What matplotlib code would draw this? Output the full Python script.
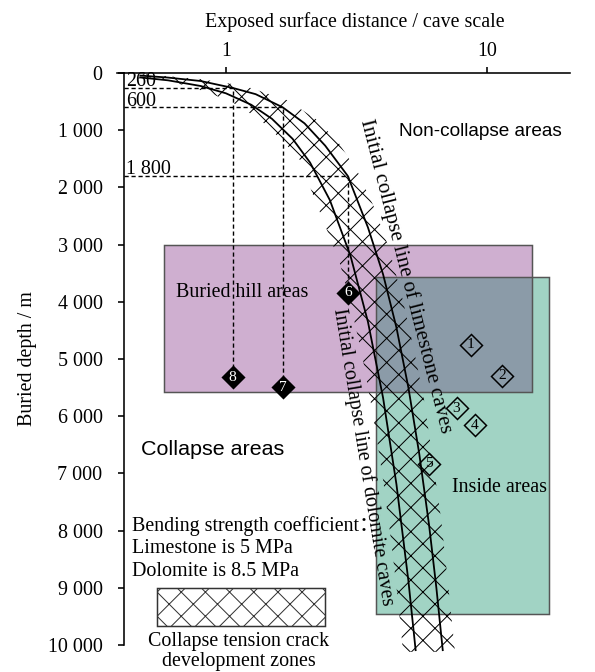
import matplotlib.pyplot as plt
from matplotlib.patches import Polygon, Rectangle
from matplotlib.ticker import NullLocator

W, H, DPI = 595, 672, 145
P = 72 / DPI  # pixels -> points

plt.rcParams['font.family'] = 'Liberation Serif'
plt.rcParams['hatch.linewidth'] = 1.0 * P
plt.rcParams['hatch.color'] = 'black'

# initial collapse lines: cave scale (exposed surface distance) vs buried depth, m
limestone_x = [0.47, 0.6, 0.8, 1.06, 1.3, 1.65, 2.0, 2.4, 2.93, 3.5, 4.0, 4.5, 5.0, 5.5, 6.0, 6.4, 6.77]
limestone_depth = [45, 80, 140, 260, 370, 600, 880, 1270, 1800, 2700, 3520, 4450, 5500, 6650, 7900, 9000, 10090]
dolomite_x = [0.47, 0.6, 0.8, 1.0, 1.25, 1.5, 1.8, 2.1, 2.5, 3.0, 3.5, 4.0, 4.5, 5.0, 5.33]
dolomite_depth = [78, 128, 227, 355, 555, 800, 1150, 1565, 2220, 3195, 4350, 5680, 7190, 8875, 10090]

# collapse tension crack development zone (outline)
zone_lower_x = [0.48, 0.666, 0.868, 1.131, 1.411, 1.683, 1.921, 2.12, 2.394, 2.71, 2.98, 3.35, 3.69, 4.0, 4.29, 4.56, 4.77]
zone_lower_depth = [52, 192, 350, 577, 891, 1224, 1521, 2045, 2657, 3269, 3968, 5017, 6066, 7114, 8163, 9211, 10120]
zone_upper_x = [0.48, 0.795, 1.18, 1.71, 2.21, 2.69, 3.2, 3.69, 4.21, 4.76, 5.25, 5.74, 6.2, 6.68, 7.07, 7.54]
zone_upper_depth = [17, 105, 227, 472, 804, 1206, 1731, 2342, 3059, 3968, 4842, 5716, 6765, 7815, 8862, 10120]

# areas
hill_x = [0.58, 14.9]
hill_depth = [3000, 5580]
inside_x = [3.76, 17.3]
inside_depth = [3570, 9460]

# critical depths on the limestone line
crit_x = [1.06, 1.65, 2.93]
crit_depth = [260, 600, 1800]
crit_labels = ['260', '600', '1 800']

# caves / wells
well_ids = ['1', '2', '3', '4', '5', '6', '7', '8']
well_x = [8.66, 11.44, 7.65, 9.0, 6.0, 2.93, 1.65, 1.06]
well_depth = [4755, 5297, 5862, 6159, 6835, 3846, 5490, 5315]
well_filled = [False, False, False, False, False, True, True, True]

# drop from critical depth to well
crit_wells = ['8', '7', '6']

depth_ticks = list(range(0, 10001, 1000))
depth_ticklabels = ['0'] + [f'{d // 1000} 000' for d in depth_ticks[1:]]

xmin, xmax = 0.407, 20.8

fs = 20 * P        # main serif text
fs_num = 15.5 * P  # numbers in diamonds

fig = plt.figure(figsize=(W / DPI, H / DPI), dpi=DPI)
ax = fig.add_axes([124 / W, 1 - 645 / H, 446 / W, 572 / H])
ax.set_xscale('log')
ax.set_xlim(xmin, xmax)
ax.set_ylim(10000, 0)

purple = '#cfafd0'
teal = '#a1d3c4'
overlap = '#8b9ba8'
edge = '#555555'

# areas
ax.add_patch(Rectangle((hill_x[0], hill_depth[0]), hill_x[1] - hill_x[0], hill_depth[1] - hill_depth[0],
                       facecolor=purple, edgecolor='none', zorder=1))
ax.add_patch(Rectangle((inside_x[0], inside_depth[0]), inside_x[1] - inside_x[0],
                       inside_depth[1] - inside_depth[0], facecolor=teal, edgecolor='none', zorder=1))
ox0, ox1 = max(hill_x[0], inside_x[0]), min(hill_x[1], inside_x[1])
oy0, oy1 = max(hill_depth[0], inside_depth[0]), min(hill_depth[1], inside_depth[1])
ax.add_patch(Rectangle((ox0, oy0), ox1 - ox0, oy1 - oy0, facecolor=overlap, edgecolor='none', zorder=1.1))
for xs, ds in [(hill_x, hill_depth), (inside_x, inside_depth)]:
    ax.add_patch(Rectangle((xs[0], ds[0]), xs[1] - xs[0], ds[1] - ds[0],
                           facecolor='none', edgecolor=edge, lw=1.5 * P, zorder=1.2))

# crack zone
zone_pts = list(zip(zone_lower_x, zone_lower_depth)) + list(zip(zone_upper_x, zone_upper_depth))[::-1]
ax.add_patch(Polygon(zone_pts, closed=True, facecolor='none', edgecolor='black', lw=0,
                     hatch='xx', zorder=2, clip_on=False))

# collapse lines
ax.plot(limestone_x, limestone_depth, color='black', lw=1.8 * P, zorder=3, clip_on=False)
ax.plot(dolomite_x, dolomite_depth, color='black', lw=1.8 * P, zorder=3, clip_on=False)

# critical depth guides
for cx, cd, lab, wid in zip(crit_x, crit_depth, crit_labels, crit_wells):
    wd = well_depth[well_ids.index(wid)]
    ax.plot([xmin, cx, cx], [cd, cd, wd], color='black', lw=1.4 * P, ls=(0, (3, 2)), zorder=2.5)
    ax.text(xmin * 1.015, cd - 30, lab, fontsize=fs, ha='left', va='baseline', zorder=5)

# wells
for wid, wx, wd, filled in zip(well_ids, well_x, well_depth, well_filled):
    face = 'black' if filled else 'none'
    tcol = 'white' if filled else 'black'
    ax.plot(wx, wd, marker='D', ms=15.5 * P, mfc=face, mec='black', mew=1.5 * P, zorder=4)
    ax.text(wx, wd, wid, color=tcol, fontsize=fs_num, ha='center', va='center', zorder=5)

# labels inside the plot
sans = 'Liberation Sans'
ax.text(4.6, 1014, 'Non-collapse areas', family=sans, fontsize=19 * P, ha='left', va='center', zorder=5)
ax.text(0.472, 6590, 'Collapse areas', family=sans, fontsize=21.5 * P, ha='left', va='center', zorder=5)
ax.text(0.643, 3846, 'Buried hill areas', fontsize=fs, ha='left', va='center', zorder=5)
ax.text(7.36, 7254, 'Inside areas', fontsize=fs, ha='left', va='center', zorder=5)
ax.text(4.87, 3560, 'Initial collapse line of limestone caves', fontsize=21 * P, rotation=-75.6,
        rotation_mode='anchor', ha='center', va='center', zorder=5)
ax.text(3.35, 6712, 'Initial collapse line of dolomite caves', fontsize=fs, rotation=-80.7,
        rotation_mode='anchor', ha='center', va='center', zorder=5)

note_lines = ['Bending strength coefficient\uff1a', 'Limestone is 5 MPa', 'Dolomite is 8.5 MPa']
for i, line in enumerate(note_lines):
    ax.text(0.436, 7918 + i * 395, line, fontsize=fs, ha='left', va='center', zorder=5,
            family=['Liberation Serif', 'Noto Sans CJK SC'])

# hatch key
ax.add_patch(Rectangle((0.544, 9000), 2.39 - 0.544, 670, facecolor='white', edgecolor='#333333',
                       lw=1.5 * P, hatch='xx', zorder=2))
ax.text(1.12, 9946, 'Collapse tension crack', fontsize=fs, ha='center', va='center')
ax.text(1.12, 10297, 'development zones', fontsize=fs, ha='center', va='center')

# axes
ax.spines['right'].set_visible(False)
ax.spines['bottom'].set_visible(False)
ax.spines['top'].set_linewidth(1.6 * P)
ax.spines['left'].set_linewidth(1.6 * P)
ax.plot([-0.016, 0], [1, 1], transform=ax.transAxes, color='black', lw=1.6 * P, clip_on=False)

ax.xaxis.set_ticks_position('top')
ax.xaxis.set_label_position('top')
ax.set_xticks([1, 10])
ax.set_xticklabels(['1', '10'])
ax.xaxis.set_minor_locator(NullLocator())
ax.tick_params(axis='x', direction='out', length=6 * P, width=1.6 * P, pad=5.5 * P, labelsize=fs)
ax.set_yticks(depth_ticks)
ax.set_yticklabels(depth_ticklabels)
ax.tick_params(axis='y', direction='out', length=6 * P, width=1.6 * P, pad=15.5 * P, labelsize=fs)

ax.set_xlabel('Exposed surface distance / cave scale', fontsize=fs)
ax.xaxis.set_label_coords(0.518, 1.08)
ax.set_ylabel('Buried depth / m', fontsize=fs)
ax.yaxis.set_label_coords(-0.195, 0.5)

fig.savefig('out.png', dpi=DPI)
